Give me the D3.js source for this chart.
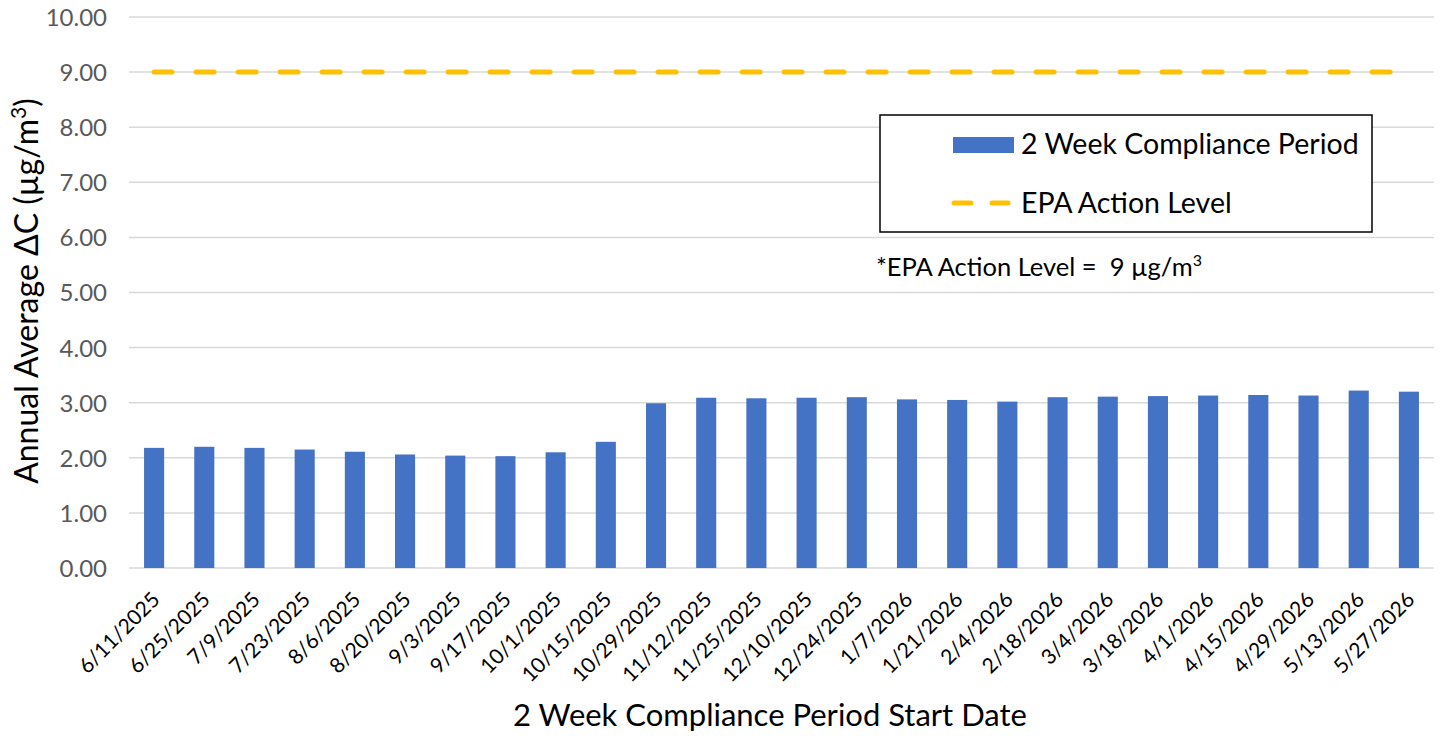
<!DOCTYPE html>
<html>
<head>
<meta charset="utf-8">
<title>Annual Average ΔC</title>
<style>
  body { margin: 0; background: #fff; }
  text { font-family: 'Lato', sans-serif; }
</style>
<script src="https://d3js.org/d3.v7.min.js"></script>
</head>
<body>
<div id="container"></div>
<script>
// ******* Data *******
const dates = ["6/11/2025", "6/25/2025", "7/9/2025", "7/23/2025", "8/6/2025", "8/20/2025",
  "9/3/2025", "9/17/2025", "10/1/2025", "10/15/2025", "10/29/2025", "11/12/2025",
  "11/25/2025", "12/10/2025", "12/24/2025", "1/7/2026", "1/21/2026", "2/4/2026",
  "2/18/2026", "3/4/2026", "3/18/2026", "4/1/2026", "4/15/2026", "4/29/2026",
  "5/13/2026", "5/27/2026"];
const deltaC = [2.18, 2.20, 2.18, 2.15, 2.11, 2.06, 2.04, 2.03, 2.10, 2.29, 2.99, 3.09,
  3.08, 3.09, 3.10, 3.06, 3.05, 3.02, 3.10, 3.11, 3.12, 3.13, 3.14, 3.13, 3.22, 3.20];
const actionLevel = 9;
const yTicks = [0, 1, 2, 3, 4, 5, 6, 7, 8, 9, 10];

// ******* Layout *******
const width = 1447, height = 736;
const plotLeft = 129, plotRight = 1434, plotTop = 17, plotBottom = 568;

const svg = d3.select("#container").append("svg")
    .attr("width", width)
    .attr("height", height);

const x = d3.scaleBand()
    .domain(dates)
    .range([plotLeft, plotRight])
    .paddingInner(0.6)
    .paddingOuter(0.3);

const y = d3.scaleLinear()
    .domain([0, 10])
    .range([plotBottom, plotTop]);

// gridlines
svg.append("g")
    .selectAll("line")
    .data(yTicks)
    .join("line")
    .attr("x1", plotLeft)
    .attr("x2", plotRight)
    .attr("y1", d => y(d))
    .attr("y2", d => y(d))
    .attr("stroke", "#d9d9d9")
    .attr("stroke-width", 1.5);

// y axis labels
const yAxis = svg.append("g")
    .attr("transform", `translate(${plotLeft - 22},0)`)
    .call(d3.axisLeft(y).tickValues(yTicks).tickFormat(d3.format(".2f")).tickSize(0).tickPadding(0));
yAxis.select(".domain").remove();
yAxis.selectAll("text")
    .attr("font-family", "Lato, sans-serif")
    .attr("font-size", 24)
    .attr("fill", "#595959")
    .attr("dy", "0.35em");

// bars
svg.append("g")
    .selectAll("rect")
    .data(deltaC)
    .join("rect")
    .attr("x", (d, i) => x(dates[i]))
    .attr("y", d => y(d))
    .attr("width", x.bandwidth())
    .attr("height", d => y(0) - y(d))
    .attr("fill", "#4472c4");

// EPA action level line
const firstC = x(dates[0]) + x.bandwidth() / 2;
const lastC = x(dates[dates.length - 1]) + x.bandwidth() / 2;
svg.append("line")
    .attr("x1", firstC)
    .attr("x2", lastC)
    .attr("y1", y(actionLevel))
    .attr("y2", y(actionLevel))
    .attr("stroke", "#ffc000")
    .attr("stroke-width", 5)
    .attr("stroke-linecap", "round")
    .attr("stroke-dasharray", "18,24");

// x tick labels
svg.append("g")
    .selectAll("text")
    .data(dates)
    .join("text")
    .attr("transform", d => `translate(${x(d) + x.bandwidth() / 2 + 7},${plotBottom + 33}) rotate(-45)`)
    .attr("text-anchor", "end")
    .attr("font-size", 21)
    .attr("fill", "#000")
    .text(d => d);

// axis titles
svg.append("text")
    .attr("x", 770)
    .attr("y", 726)
    .attr("text-anchor", "middle")
    .attr("font-size", 31)
    .attr("fill", "#000")
    .text("2 Week Compliance Period Start Date");

const yTitle = svg.append("text")
    .attr("transform", "translate(38,291) rotate(-90)")
    .attr("text-anchor", "middle")
    .attr("font-size", 32)
    .attr("fill", "#000");
yTitle.append("tspan").text("Annual Average ΔC (µg/m");
yTitle.append("tspan").attr("font-size", 21).attr("dy", -12).text("3");
yTitle.append("tspan").attr("dy", 12).text(")");

// legend
const legend = svg.append("g");
legend.append("rect")
    .attr("x", 880).attr("y", 115)
    .attr("width", 492).attr("height", 117)
    .attr("fill", "#fff")
    .attr("stroke", "#000")
    .attr("stroke-width", 1.5);
legend.append("rect")
    .attr("x", 953).attr("y", 137)
    .attr("width", 61).attr("height", 16)
    .attr("fill", "#4472c4");
legend.append("text")
    .attr("x", 1021).attr("y", 154)
    .attr("font-size", 28.5)
    .attr("fill", "#000")
    .text("2 Week Compliance Period");
legend.append("line")
    .attr("x1", 954).attr("x2", 1008)
    .attr("y1", 203).attr("y2", 203)
    .attr("stroke", "#ffc000")
    .attr("stroke-width", 5)
    .attr("stroke-linecap", "round")
    .attr("stroke-dasharray", "17,21");
legend.append("text")
    .attr("x", 1021).attr("y", 213)
    .attr("font-size", 28.5)
    .attr("fill", "#000")
    .text("EPA Action Level");

// note
const note = svg.append("text")
    .attr("x", 876).attr("y", 276)
    .attr("font-size", 25.5)
    .attr("fill", "#000")
    .style("white-space", "pre");
note.append("tspan").text("*EPA Action Level =  9 µg/m");
note.append("tspan").attr("font-size", 16).attr("dy", -10).text("3");
</script>
</body>
</html>
